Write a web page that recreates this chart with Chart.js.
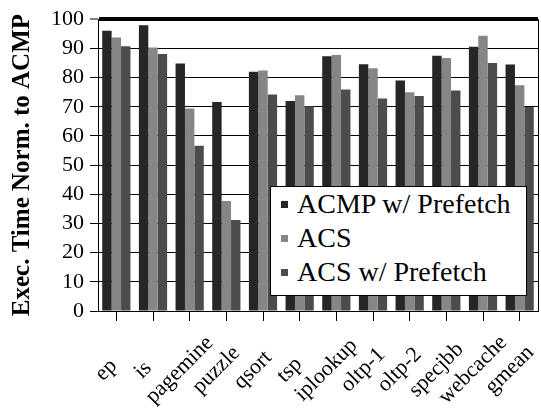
<!DOCTYPE html>
<html>
<head>
<meta charset="utf-8">
<script src="https://cdn.jsdelivr.net/npm/chart.js@4/dist/chart.umd.min.js"></script>
<style>
  html, body { margin: 0; padding: 0; background: #fff; }
  #wrap { position: relative; width: 541px; height: 413px; }
  #legend {
    position: absolute; left: 270px; top: 186px; width: 255px; height: 108px;
    border: 1.5px solid #000; background: #fff; color: #000;
  }
  #legend .row { display: flex; align-items: center; height: 34px; line-height: 34px; }
  #legend .box { width: 7px; height: 7px; margin: 0 9px 0 10px; }
</style>
</head>
<body>
<div id="wrap">
  <canvas id="chart" width="541" height="413"></canvas>
  <div id="legend"></div>
</div>
<script>
const categories = ["ep", "is", "pagemine", "puzzle", "qsort", "tsp", "iplookup",
  "oltp-1", "oltp-2", "specjbb", "webcache", "gmean"];
const acmpPrefetch = [96.0, 97.9, 84.8, 71.6, 82.0, 72.0, 87.3, 84.6, 79.0, 87.5, 90.6, 84.5];
const acs = [93.7, 90.3, 69.4, 37.7, 82.4, 73.9, 87.7, 83.2, 75.0, 86.7, 94.3, 77.4];
const acsPrefetch = [90.7, 88.1, 56.6, 31.2, 74.2, 70.2, 75.9, 72.8, 73.7, 75.6, 85.0, 69.9];

// "Times New Roman" resolves to the Liberation Serif files here
const serif = "'Times New Roman', Times, serif";

// thin frame line on the right side of the plot
const rightBorder = {
  id: "rightBorder",
  afterDatasetsDraw(chart) {
    const { ctx, chartArea } = chart;
    ctx.save();
    ctx.strokeStyle = "#000";
    ctx.lineWidth = 1;
    ctx.beginPath();
    ctx.moveTo(chartArea.right + 0.5, chartArea.top);
    ctx.lineTo(chartArea.right + 0.5, chartArea.bottom);
    ctx.stroke();
    ctx.restore();
  },
};

// category labels rotated 45deg and centred below each tick (excel style)
const centredXLabels = {
  id: "centredXLabels",
  afterDraw(chart) {
    const { ctx, chartArea } = chart;
    const xScale = chart.scales.x;
    ctx.save();
    ctx.fillStyle = "#000";
    ctx.font = `22px ${serif}`;
    ctx.textAlign = "center";
    ctx.textBaseline = "middle";
    chart.data.labels.forEach((label, i) => {
      const x = xScale.getPixelForTick(i) - 10;
      const y = chartArea.bottom + 59;
      ctx.save();
      ctx.translate(x, y);
      ctx.rotate(-Math.PI / 4);
      ctx.fillText(label, 0, 0);
      ctx.restore();
    });
    ctx.restore();
  },
};

const chart = new Chart(document.getElementById("chart"), {
  type: "bar",
  data: {
    labels: categories,
    datasets: [
      { label: "ACMP w/ Prefetch", data: acmpPrefetch, backgroundColor: "#262626" },
      { label: "ACS", data: acs, backgroundColor: "#868686" },
      { label: "ACS w/ Prefetch", data: acsPrefetch, backgroundColor: "#4c4c4c" },
    ],
  },
  options: {
    responsive: false,
    animation: false,
    devicePixelRatio: 1,
    layout: { padding: { top: 17, right: 3, left: 0, bottom: 0 } },
    datasets: {
      bar: { categoryPercentage: 0.77, barPercentage: 1.0, borderWidth: 0 },
    },
    plugins: {
      legend: { display: false },
      tooltip: { enabled: false },
    },
    scales: {
      x: {
        afterFit: (scale) => { scale.height = 102; },
        border: { display: true, color: "#000", width: 1 },
        grid: {
          offset: false,
          drawOnChartArea: false,
          drawTicks: true,
          tickLength: 10,
          tickColor: "#000",
          tickWidth: 1,
        },
        ticks: { display: false, autoSkip: false },
      },
      y: {
        min: 0,
        max: 100,
        afterFit: (scale) => { scale.width = 98; },
        border: { display: true, color: "#000", width: 1 },
        grid: {
          color: "#000",
          lineWidth: (ctx) => (ctx.tick && ctx.tick.value === 100 ? 4 : 1),
          tickLength: 8,
          tickColor: "#000",
          tickWidth: 1,
        },
        ticks: {
          autoSkip: false,
          stepSize: 10,
          color: "#000",
          font: { family: serif, size: 22 },
          padding: 6,
        },
        title: {
          display: true,
          text: "Exec. Time Norm. to ACMP",
          color: "#000",
          font: { family: serif, size: 25, weight: "bold" },
          padding: { top: 8, bottom: 0 },
        },
      },
    },
  },
  plugins: [rightBorder, centredXLabels],
});

// legend built from the chart's datasets
const legend = document.getElementById("legend");
legend.style.font = `28px ${serif}`;
chart.data.datasets.forEach((ds) => {
  const row = document.createElement("div");
  row.className = "row";
  const box = document.createElement("span");
  box.className = "box";
  box.style.background = ds.backgroundColor;
  const text = document.createElement("span");
  text.textContent = ds.label;
  row.append(box, text);
  legend.append(row);
});
</script>
</body>
</html>
